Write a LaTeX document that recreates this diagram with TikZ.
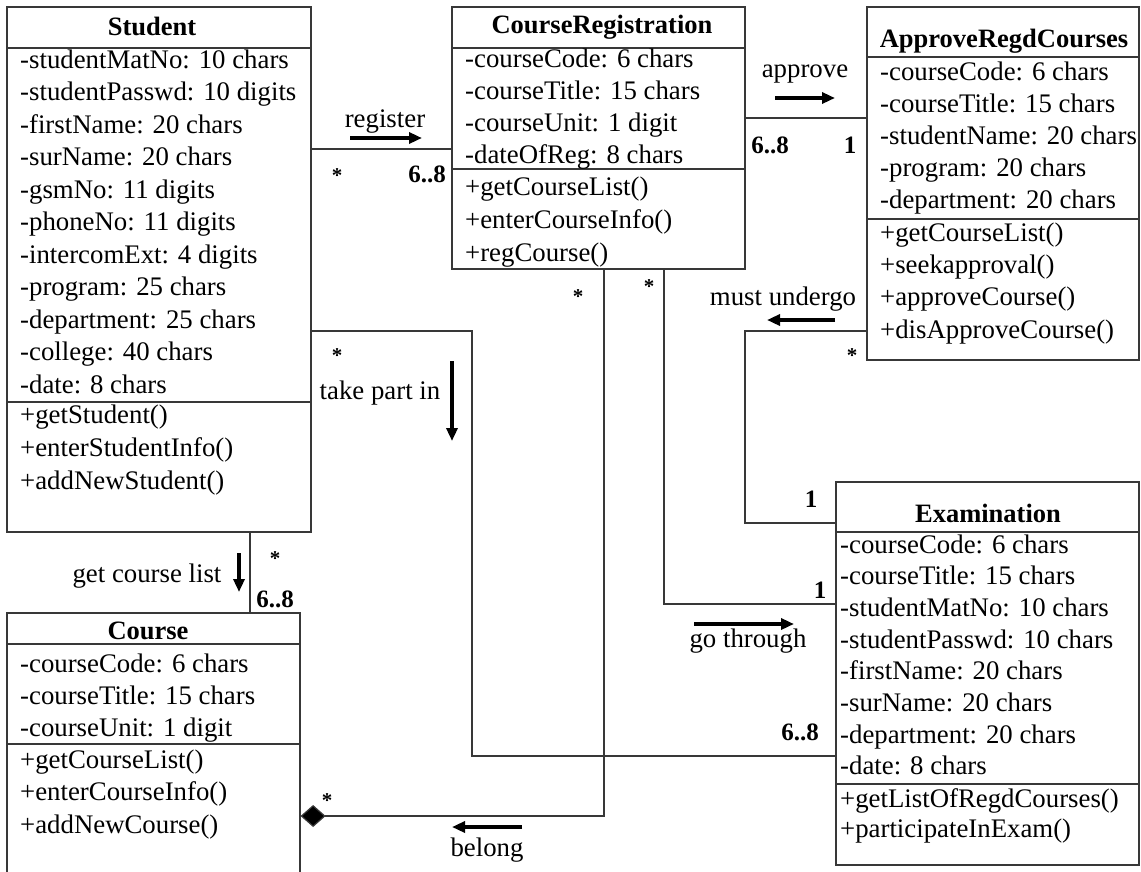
\documentclass[tikz,border=0pt]{standalone}
\usepackage{fontspec}
\setmainfont{Liberation Serif}
\usetikzlibrary{arrows.meta}
\begin{document}
\begin{tikzpicture}[x=1pt,y=-1pt,
 cls/.style={draw=black!78, line width=1.2pt, inner sep=0pt, rectangle},
 sepl/.style={draw=black!78, line width=1.2pt},
 conn/.style={draw=black!78, line width=1.2pt},
 attr/.style={anchor=base west, inner sep=0pt, font=\fontsize{26.8}{30}\selectfont},
 ttl/.style={anchor=base, inner sep=0pt, font=\fontsize{26.5}{30}\selectfont\bfseries},
 lbl/.style={anchor=base, inner sep=0pt, font=\fontsize{26.8}{30}\selectfont},
 mult/.style={anchor=base, inner sep=0pt, font=\fontsize{25}{30}\selectfont\bfseries},
 star/.style={anchor=base, inner sep=0pt, font=\fontsize{21}{24}\selectfont\bfseries},
 dirarrow/.style={line width=3.4pt, -{Triangle[length=13pt,width=11pt]}},
]
\clip (0,0) rectangle (1141,871);
\fill[white] (0,0) rectangle (1141,871);

% ---------- class boxes ----------
\node[cls, minimum width=304pt, minimum height=525pt] (student) at (159,269.5) {};
\node[cls, minimum width=293pt, minimum height=262pt] (creg) at (598.5,138) {};
\node[cls, minimum width=272pt, minimum height=353pt] (appr) at (1003,183.5) {};
\node[cls, minimum width=293pt, minimum height=287pt] (course) at (153.5,756.5) {};
\node[cls, minimum width=303pt, minimum height=383pt] (exam) at (987.5,673.5) {};

% separators
\draw[sepl] (student.west |- 0,48) -- (student.east |- 0,48);
\draw[sepl] (student.west |- 0,402) -- (student.east |- 0,402);
\draw[sepl] (creg.west |- 0,48) -- (creg.east |- 0,48);
\draw[sepl] (creg.west |- 0,169) -- (creg.east |- 0,169);
\draw[sepl] (appr.west |- 0,57) -- (appr.east |- 0,57);
\draw[sepl] (appr.west |- 0,219) -- (appr.east |- 0,219);
\draw[sepl] (course.west |- 0,644) -- (course.east |- 0,644);
\draw[sepl] (course.west |- 0,744) -- (course.east |- 0,744);
\draw[sepl] (exam.west |- 0,532) -- (exam.east |- 0,532);
\draw[sepl] (exam.west |- 0,784) -- (exam.east |- 0,784);

% ---------- titles ----------
\node[ttl] (studentT) at (152,35) {Student};
\node[ttl] (cregT) at (602,33) {CourseRegistration};
\node[ttl] (apprT) at (1004,47) {ApproveRegdCourses};
\node[ttl] (courseT) at (148,639) {Course};
\node[ttl] (examT) at (988,522) {Examination};

% ---------- Student ----------
\foreach \t [count=\i from 0] in {-studentMatNo: 10 chars,-studentPasswd: 10 digits,-firstName: 20 chars,-surName: 20 chars,-gsmNo: 11 digits,-phoneNo: 11 digits,-intercomExt: 4 digits,-program: 25 chars,-department: 25 chars,-college: 40 chars,-date: 8 chars}
  \node[attr] (sa\i) at (20,68+32.5*\i) {\t};
\foreach \t [count=\i from 0] in {+getStudent(),+enterStudentInfo(),+addNewStudent()}
  \node[attr] (sm\i) at (20,423+33*\i) {\t};

% ---------- CourseRegistration ----------
\foreach \t [count=\i from 0] in {-courseCode: 6 chars,-courseTitle: 15 chars,-courseUnit: 1 digit,-dateOfReg: 8 chars}
  \node[attr] (ca\i) at (465,67+32.3*\i) {\t};
\foreach \t [count=\i from 0] in {+getCourseList(),+enterCourseInfo(),+regCourse()}
  \node[attr] (cm\i) at (465,195+33*\i) {\t};

% ---------- ApproveRegdCourses ----------
\foreach \t [count=\i from 0] in {-courseCode: 6 chars,-courseTitle: 15 chars,-studentName: 20 chars,-program: 20 chars,-department: 20 chars}
  \node[attr] (aa\i) at (880,80+32.2*\i) {\t};
\foreach \t [count=\i from 0] in {+getCourseList(),+seekapproval(),+approveCourse(),+disApproveCourse()}
  \node[attr] (am\i) at (880,241+32.4*\i) {\t};

% ---------- Course ----------
\foreach \t [count=\i from 0] in {-courseCode: 6 chars,-courseTitle: 15 chars,-courseUnit: 1 digit}
  \node[attr] (oa\i) at (20,672+32*\i) {\t};
\foreach \t [count=\i from 0] in {+getCourseList(),+enterCourseInfo(),+addNewCourse()}
  \node[attr] (om\i) at (20,768+32.5*\i) {\t};

% ---------- Examination ----------
\foreach \t [count=\i from 0] in {-courseCode: 6 chars,-courseTitle: 15 chars,-studentMatNo: 10 chars,-studentPasswd: 10 chars,-firstName: 20 chars,-surName: 20 chars,-department: 20 chars,-date: 8 chars}
  \node[attr] (ea\i) at (840,553+31.7*\i) {\t};
\foreach \t [count=\i from 0] in {+getListOfRegdCourses(),+participateInExam()}
  \node[attr] (em\i) at (840,807+30*\i) {\t};

% ---------- connectors ----------
\draw[conn] (student.east |- 0,149) -- (creg.west |- 0,149);
\draw[conn] (creg.east |- 0,118) -- (appr.west |- 0,118);
\draw[conn] (student.east |- 0,331) -| (472,756) -- (exam.west |- 0,756);
\draw[conn, -{Diamond[length=25pt,width=22pt,fill=black]}] (creg.south -| 604,0) |- (course.east |- 0,816);
\draw[conn] (creg.south -| 664,0) |- (exam.west |- 0,604);
\draw[conn] (appr.west |- 0,331) -| (745,523) -- (exam.west |- 0,523);
\draw[conn] (student.south -| 250,0) -- (course.north -| 250,0);

% ---------- association labels ----------
\node[lbl] (regL) at (385,127) {register};
\coordinate (regA1) at (350,138); \coordinate (regA2) at (422,138);
\draw[dirarrow] (regA1) -- (regA2);
\node[star] (regS1) at (337,182) {*};
\node[mult] (regM2) at (427,182) {6..8};

\node[lbl] (appL) at (805,77) {approve};
\coordinate (appA1) at (775,98); \coordinate (appA2) at (835,98);
\draw[dirarrow] (appA1) -- (appA2);
\node[mult] (appM1) at (770,153) {6..8};
\node[mult] (appM2) at (850,153) {1};

\node[lbl] (tpL) at (380,399) {take part in};
\coordinate (tpA1) at (452,361); \coordinate (tpA2) at (452,441);
\draw[dirarrow] (tpA1) -- (tpA2);
\node[star] (tpS1) at (337,362) {*};
\node[mult] (tpM2) at (800,740) {6..8};

\node[lbl] (muL) at (783,305) {must undergo};
\coordinate (muA1) at (835,320); \coordinate (muA2) at (767,320);
\draw[dirarrow] (muA1) -- (muA2);
\node[star] (muS1) at (852,362) {*};
\node[mult] (muM2) at (811,507) {1};

\node[lbl] (gtL) at (748,647) {go through};
\coordinate (gtA1) at (694,624); \coordinate (gtA2) at (794,624);
\draw[dirarrow] (gtA1) -- (gtA2);
\node[star] (gtS1) at (649,293) {*};
\node[mult] (gtM2) at (820,598) {1};

\node[lbl] (beL) at (487,856) {belong};
\coordinate (beA1) at (522,827); \coordinate (beA2) at (452,827);
\draw[dirarrow] (beA1) -- (beA2);
\node[star] (beS1) at (578,303) {*};
\node[star] (beS2) at (327,807) {*};

\node[lbl] (gcL) at (147,582) {get course list};
\coordinate (gcA1) at (239,553); \coordinate (gcA2) at (239,592);
\draw[dirarrow] (gcA1) -- (gcA2);
\node[star] (gcS1) at (275,565) {*};
\node[mult] (gcM2) at (275,607) {6..8};
\end{tikzpicture}
\end{document}
